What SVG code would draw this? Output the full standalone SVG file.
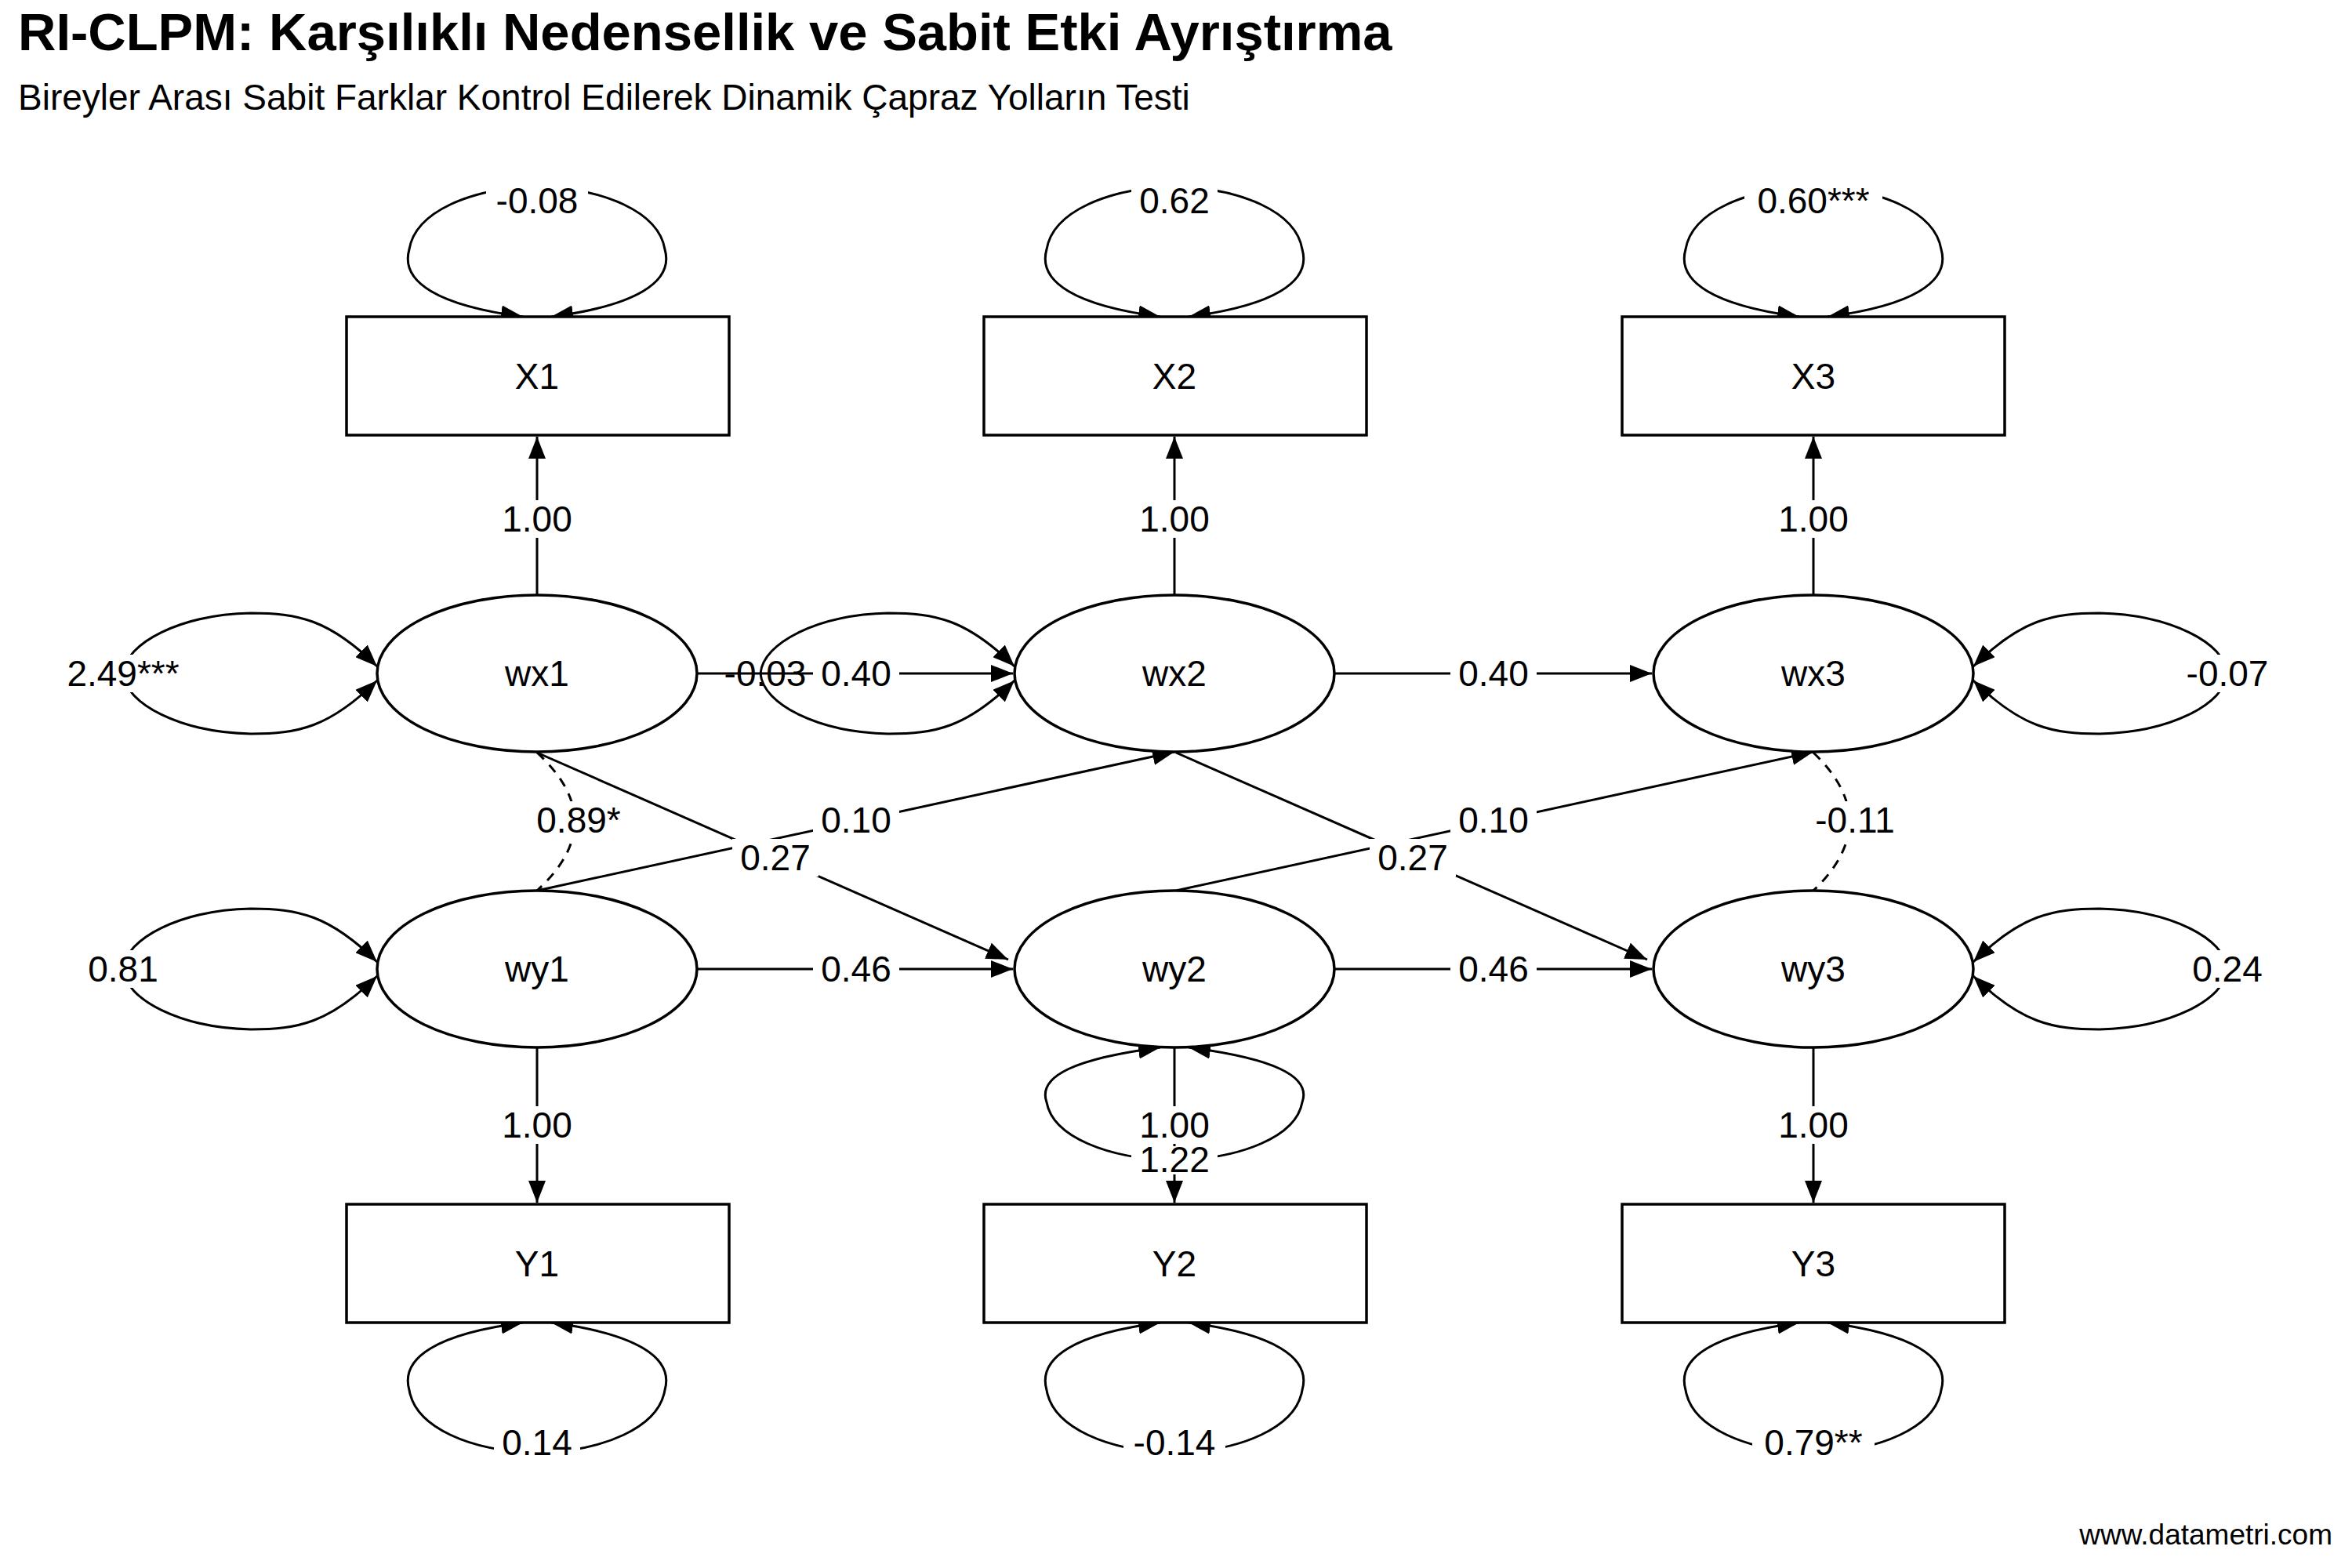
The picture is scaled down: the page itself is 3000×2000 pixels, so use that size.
<svg xmlns="http://www.w3.org/2000/svg" width="3000" height="2000" viewBox="0 0 3000 2000">
<style>
text{font-family:"Liberation Sans",Arial,sans-serif;fill:#000}
.n{fill:#fff;stroke:#000;stroke-width:3.5}
.c{fill:none;stroke:#000;stroke-width:3}
.d{stroke-dasharray:12 10}
.l{font-size:46px;text-anchor:middle;dominant-baseline:central}
.bg{fill:#fff}
</style>
<defs>
<marker id="b" viewBox="0 0 28 22" refX="28" refY="11" markerWidth="28" markerHeight="22" markerUnits="userSpaceOnUse" orient="auto-start-reverse">
<path d="M0,0 L28,11 L0,22 z" fill="#000"/>
</marker>
</defs>
<rect width="3000" height="2000" fill="#fff"/>
<text x="23" y="64" font-size="67" font-weight="bold">RI-CLPM: Karşılıklı Nedensellik ve Sabit Etki Ayrıştırma</text>
<text x="23" y="140" font-size="46">Bireyler Arası Sabit Farklar Kontrol Edilerek Dinamik Çapraz Yolların Testi</text>
<text x="2975" y="1970" font-size="37" text-anchor="end">www.datametri.com</text>

<g id="connectors" class="c" marker-end="url(#b)">
<path d="M685 759 V557"/><path d="M1498 759 V557"/><path d="M2313 759 V557"/>
<path d="M685 1336 V1534"/><path d="M1498 1336 V1534"/><path d="M2313 1336 V1534"/>
<path d="M889 859 H1292"/><path d="M1702 859 H2107"/>
<path d="M889 1236 H1292"/><path d="M1702 1236 H2107"/>
<path d="M685 960 L1286 1224"/><path d="M685 1136 L1498 959"/>
<path d="M1500 960 L2101 1224"/><path d="M1500 1136 L2313 959"/>
<path class="c d" marker-end="none" d="M685 960 Q781 1048 685 1136"/>
<path class="c d" marker-end="none" d="M2313 960 Q2405 1048 2313 1136"/>
<g marker-start="url(#b)">
<path d="M667 404 C560 390 510 360 522 318 C530 270 600 240 685 238 C770 240 840 270 848 318 C860 360 810 390 703 404"/>
<path d="M1480 404 C1373 390 1323 360 1335 318 C1343 270 1413 240 1498 238 C1583 240 1653 270 1661 318 C1673 360 1623 390 1516 404"/>
<path d="M2295 404 C2188 390 2138 360 2150 318 C2158 270 2228 240 2313 238 C2398 240 2468 270 2476 318 C2488 360 2438 390 2331 404"/>
<path d="M667 1687 C560 1701 510 1731 522 1773 C530 1821 600 1851 685 1853 C770 1851 840 1821 848 1773 C860 1731 810 1701 703 1687"/>
<path d="M1480 1687 C1373 1701 1323 1731 1335 1773 C1343 1821 1413 1851 1498 1853 C1583 1851 1653 1821 1661 1773 C1673 1731 1623 1701 1516 1687"/>
<path d="M2295 1687 C2188 1701 2138 1731 2150 1773 C2158 1821 2228 1851 2313 1853 C2398 1851 2468 1821 2476 1773 C2488 1731 2438 1701 2331 1687"/>
<path d="M1480 1336 C1373 1350 1323 1372 1335 1406 C1343 1450 1413 1478 1498 1480 C1583 1478 1653 1450 1661 1406 C1673 1372 1623 1350 1516 1336"/>
<path d="M481 850 C420 790 380 782 320 782 C230 784 160 820 157 859 C160 898 230 934 320 936 C380 936 420 928 481 868"/>
<path d="M481 1227 C420 1167 380 1159 320 1159 C230 1161 160 1197 157 1236 C160 1275 230 1311 320 1313 C380 1313 420 1305 481 1245"/>
<path d="M1294 850 C1233 790 1193 782 1133 782 C1043 784 973 820 970 859 C973 898 1043 934 1133 936 C1193 936 1233 928 1294 868"/>
<path d="M2517 850 C2578 790 2618 782 2678 782 C2768 784 2838 820 2841 859 C2838 898 2768 934 2678 936 C2618 936 2578 928 2517 868"/>
<path d="M2517 1227 C2578 1167 2618 1159 2678 1159 C2768 1161 2838 1197 2841 1236 C2838 1275 2768 1311 2678 1313 C2618 1313 2578 1305 2517 1245"/>
</g>
</g>

<g id="X1"><rect class="n" x="442" y="404" width="488" height="151"/><text class="l" x="685" y="480">X1</text></g>
<g id="X2"><rect class="n" x="1255" y="404" width="488" height="151"/><text class="l" x="1498" y="480">X2</text></g>
<g id="X3"><rect class="n" x="2069" y="404" width="488" height="151"/><text class="l" x="2313" y="480">X3</text></g>
<g id="Y1"><rect class="n" x="442" y="1536" width="488" height="151"/><text class="l" x="685" y="1612">Y1</text></g>
<g id="Y2"><rect class="n" x="1255" y="1536" width="488" height="151"/><text class="l" x="1498" y="1612">Y2</text></g>
<g id="Y3"><rect class="n" x="2069" y="1536" width="488" height="151"/><text class="l" x="2313" y="1612">Y3</text></g>
<g id="wx1"><ellipse class="n" cx="685" cy="859" rx="204" ry="100"/><text class="l" x="685" y="859">wx1</text></g>
<g id="wx2"><ellipse class="n" cx="1498" cy="859" rx="204" ry="100"/><text class="l" x="1498" y="859">wx2</text></g>
<g id="wx3"><ellipse class="n" cx="2313" cy="859" rx="204" ry="100"/><text class="l" x="2313" y="859">wx3</text></g>
<g id="wy1"><ellipse class="n" cx="685" cy="1236" rx="204" ry="100"/><text class="l" x="685" y="1236">wy1</text></g>
<g id="wy2"><ellipse class="n" cx="1498" cy="1236" rx="204" ry="100"/><text class="l" x="1498" y="1236">wy2</text></g>
<g id="wy3"><ellipse class="n" cx="2313" cy="1236" rx="204" ry="100"/><text class="l" x="2313" y="1236">wy3</text></g>

<g id="labels">
<rect class="bg" x="620" y="226" width="130" height="60"/><text class="l" x="685" y="256">-0.08</text>
<rect class="bg" x="1443" y="226" width="110" height="60"/><text class="l" x="1498" y="256">0.62</text>
<rect class="bg" x="2225" y="226" width="176" height="60"/><text class="l" x="2313" y="256">0.60***</text>
<rect class="bg" x="630" y="1810" width="110" height="60"/><text class="l" x="685" y="1840">0.14</text>
<rect class="bg" x="1433" y="1810" width="130" height="60"/><text class="l" x="1498" y="1840">-0.14</text>
<rect class="bg" x="2235" y="1810" width="156" height="60"/><text class="l" x="2313" y="1840">0.79**</text>
<rect class="bg" x="630" y="638" width="110" height="48"/><text class="l" x="685" y="662">1.00</text>
<rect class="bg" x="1443" y="638" width="110" height="48"/><text class="l" x="1498" y="662">1.00</text>
<rect class="bg" x="2258" y="638" width="110" height="48"/><text class="l" x="2313" y="662">1.00</text>
<rect class="bg" x="630" y="1411" width="110" height="48"/><text class="l" x="685" y="1435">1.00</text>
<rect class="bg" x="1443" y="1411" width="110" height="48"/><text class="l" x="1498" y="1435">1.00</text>
<rect class="bg" x="2258" y="1411" width="110" height="48"/><text class="l" x="2313" y="1435">1.00</text>
<rect class="bg" x="1443" y="1462" width="110" height="36"/><text class="l" x="1498" y="1479">1.22</text>
<rect class="bg" x="72" y="835" width="166" height="48"/><text class="l" x="157" y="859">2.49***</text>
<rect class="bg" x="102" y="1212" width="110" height="48"/><text class="l" x="157" y="1236">0.81</text>
<text class="l" x="976" y="859">-0.03</text>
<rect class="bg" x="2776" y="835" width="130" height="48"/><text class="l" x="2841" y="859">-0.07</text>
<rect class="bg" x="2786" y="1212" width="110" height="48"/><text class="l" x="2841" y="1236">0.24</text>
<rect class="bg" x="1037" y="835" width="110" height="48"/><text class="l" x="1092" y="859">0.40</text>
<rect class="bg" x="1850" y="835" width="110" height="48"/><text class="l" x="1905" y="859">0.40</text>
<rect class="bg" x="1037" y="1212" width="110" height="48"/><text class="l" x="1092" y="1236">0.46</text>
<rect class="bg" x="1850" y="1212" width="110" height="48"/><text class="l" x="1905" y="1236">0.46</text>
<rect class="bg" x="1037" y="1022" width="110" height="48"/><text class="l" x="1092" y="1046">0.10</text>
<rect class="bg" x="1850" y="1022" width="110" height="48"/><text class="l" x="1905" y="1046">0.10</text>
<rect class="bg" x="934" y="1070" width="110" height="48"/><text class="l" x="989" y="1094">0.27</text>
<rect class="bg" x="1747" y="1070" width="110" height="48"/><text class="l" x="1802" y="1094">0.27</text>
<rect class="bg" x="676" y="1022" width="124" height="48"/><text class="l" x="738" y="1046">0.89*</text>
<rect class="bg" x="2301" y="1022" width="130" height="48"/><text class="l" x="2366" y="1046">-0.11</text>
</g>
</svg>
